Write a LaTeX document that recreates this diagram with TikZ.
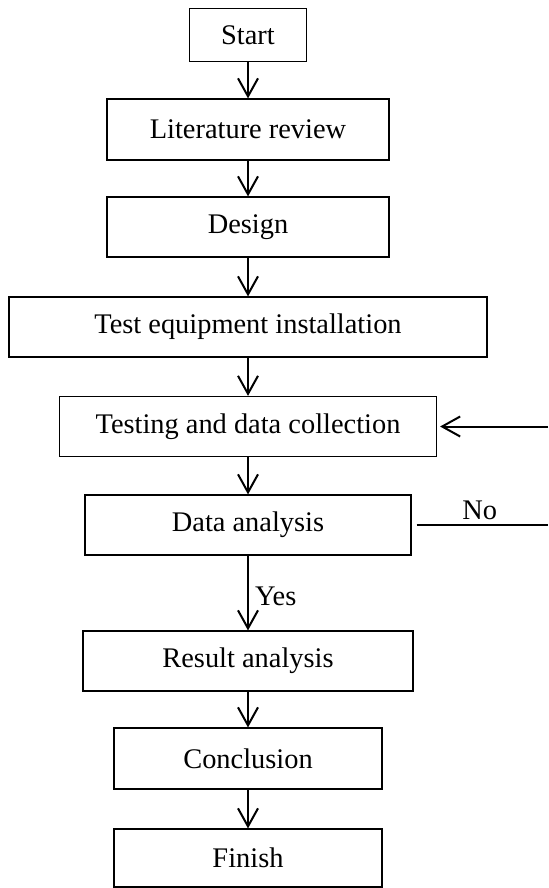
\documentclass[tikz,border=0pt]{standalone}
\usepackage{fontspec}
\setmainfont{Liberation Serif}
\usetikzlibrary{arrows.meta}
\newcommand{\pxunit}{0.5pt}
\newcommand{\labelsize}{\fontsize{14.2}{17}\selectfont}
\tikzset{stage/.style={draw=#1,line width=0.6pt,inner sep=0pt,minimum height=30pt,font=\labelsize},stage/.default=black}
\tikzset{flow/.style={color=#1,line width=1pt,-{Straight Barb[length=9pt,width=10pt]}},flow/.default=black}
\tikzset{link/.style={color=#1,line width=1pt},link/.default=black}
\tikzset{tag/.style={color=#1,inner sep=2pt,font=\labelsize},tag/.default=black}

\begin{document}
\begin{tikzpicture}[x=\pxunit,y=-\pxunit]
		\useasboundingbox (0,0) rectangle (548,888);

		\node [stage,minimum width=58.5pt,minimum height=26.5pt] (start) at (248,35) {Start};
		\node [stage,minimum width=141pt,minimum height=30.5pt] (review) at (248,129.5) {Literature review};
		\node [stage,minimum width=141pt] (design) at (248,227) {Design};
		\node [stage,minimum width=239pt] (install) at (248,327) {Test equipment installation};
		\node [stage,minimum width=188.5pt] (testing) at (248,426.5) {Testing and data collection};
		\node [stage,minimum width=163pt] (analysis) at (248,525) {Data analysis};
		\node [stage,minimum width=165pt] (result) at (248,661) {Result analysis};
		\node [stage,minimum width=134pt,minimum height=30.5pt] (conclusion) at (248,758.5) {Conclusion};
		\node [stage,minimum width=134pt,minimum height=29pt] (finish) at (248,858) {Finish};

		% main path
		\draw [flow] (start) -- (review);
		\draw [flow] (review) -- (design);
		\draw [flow] (design) -- (install);
		\draw [flow] (install) -- (testing);
		\draw [flow] (testing) -- (analysis);
		\draw [flow] (analysis) -- node [tag,right,pos=0.55,xshift=1pt] (yes) {Yes} (result);
		\draw [flow] (result) -- (conclusion);
		\draw [flow] (conclusion) -- (finish);

		% loop back
		\coordinate (loopout) at (548,525);
		\coordinate (loopin) at (548,426.5);
		\draw [link,shorten <=2.5pt] (analysis.east) -- node [tag,above] (no) {No} (loopout);
		\draw [flow,shorten >=1.5pt] (loopin) -- (testing.east);
	\end{tikzpicture}
\end{document}
